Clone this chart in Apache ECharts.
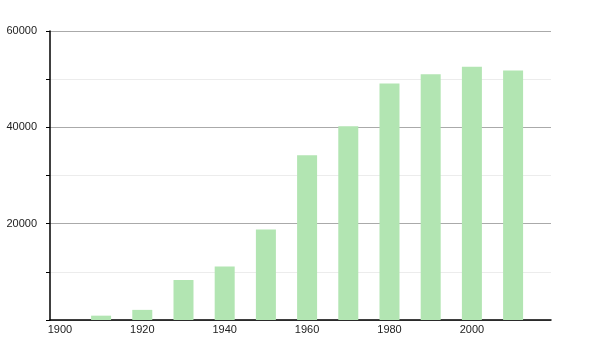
<!DOCTYPE html>
<html>
<head>
<meta charset="utf-8">
<script src="https://cdn.jsdelivr.net/npm/echarts@6/dist/echarts.min.js"></script>
<style>html,body{margin:0;padding:0;background:#fff}#c{width:600px;height:350px}</style>
</head>
<body>
<div id="c"></div>
<script>
const years = [1910, 1920, 1930, 1940, 1950, 1960, 1970, 1980, 1990, 2000, 2010];
const population = [900, 2100, 8300, 11100, 18800, 34200, 40200, 49100, 51000, 52600, 51800];
const xTickLabels = [1900, 1920, 1940, 1960, 1980, 2000];
const yTickLabels = [20000, 40000, 60000];

const chart = echarts.init(document.getElementById('c'), null, {renderer: 'canvas'});
chart.setOption({
  animation: false,
  backgroundColor: '#ffffff',
  grid: {left: 50, right: 49, top: 31, bottom: 30, containLabel: false},
  xAxis: {
    type: 'value',
    min: 1897.6,
    max: 2019.2,
    splitLine: {show: false},
    axisLine: {show: true, lineStyle: {color: '#000', width: 1.5}},
    axisTick: {show: false},
    axisLabel: {
      customValues: xTickLabels,
      color: '#222', fontFamily: 'Liberation Sans, Arial, sans-serif', fontSize: 11, margin: 4,
      formatter: v => String(v)
    }
  },
  yAxis: {
    type: 'value',
    min: 0, max: 60000, interval: 20000,
    axisLine: {show: true, lineStyle: {color: '#000', width: 1.5}},
    axisTick: {show: true, length: 4, lineStyle: {color: '#000'}},
    minorTick: {show: true, splitNumber: 2, length: 4, lineStyle: {color: '#000'}},
    splitLine: {show: true, lineStyle: {color: '#aaa', width: 1}},
    minorSplitLine: {show: true, lineStyle: {color: '#ececec', width: 1}},
    axisLabel: {
      color: '#222', fontFamily: 'Liberation Sans, Arial, sans-serif', fontSize: 11, margin: 13,
      formatter: v => (yTickLabels.indexOf(v) >= 0 ? String(v) : '')
    }
  },
  series: [{
    type: 'bar',
    data: years.map((y, i) => [y, population[i]]),
    barWidth: 20,
    itemStyle: {color: '#b2e5b2'}
  }]
});
</script>
</body>
</html>
